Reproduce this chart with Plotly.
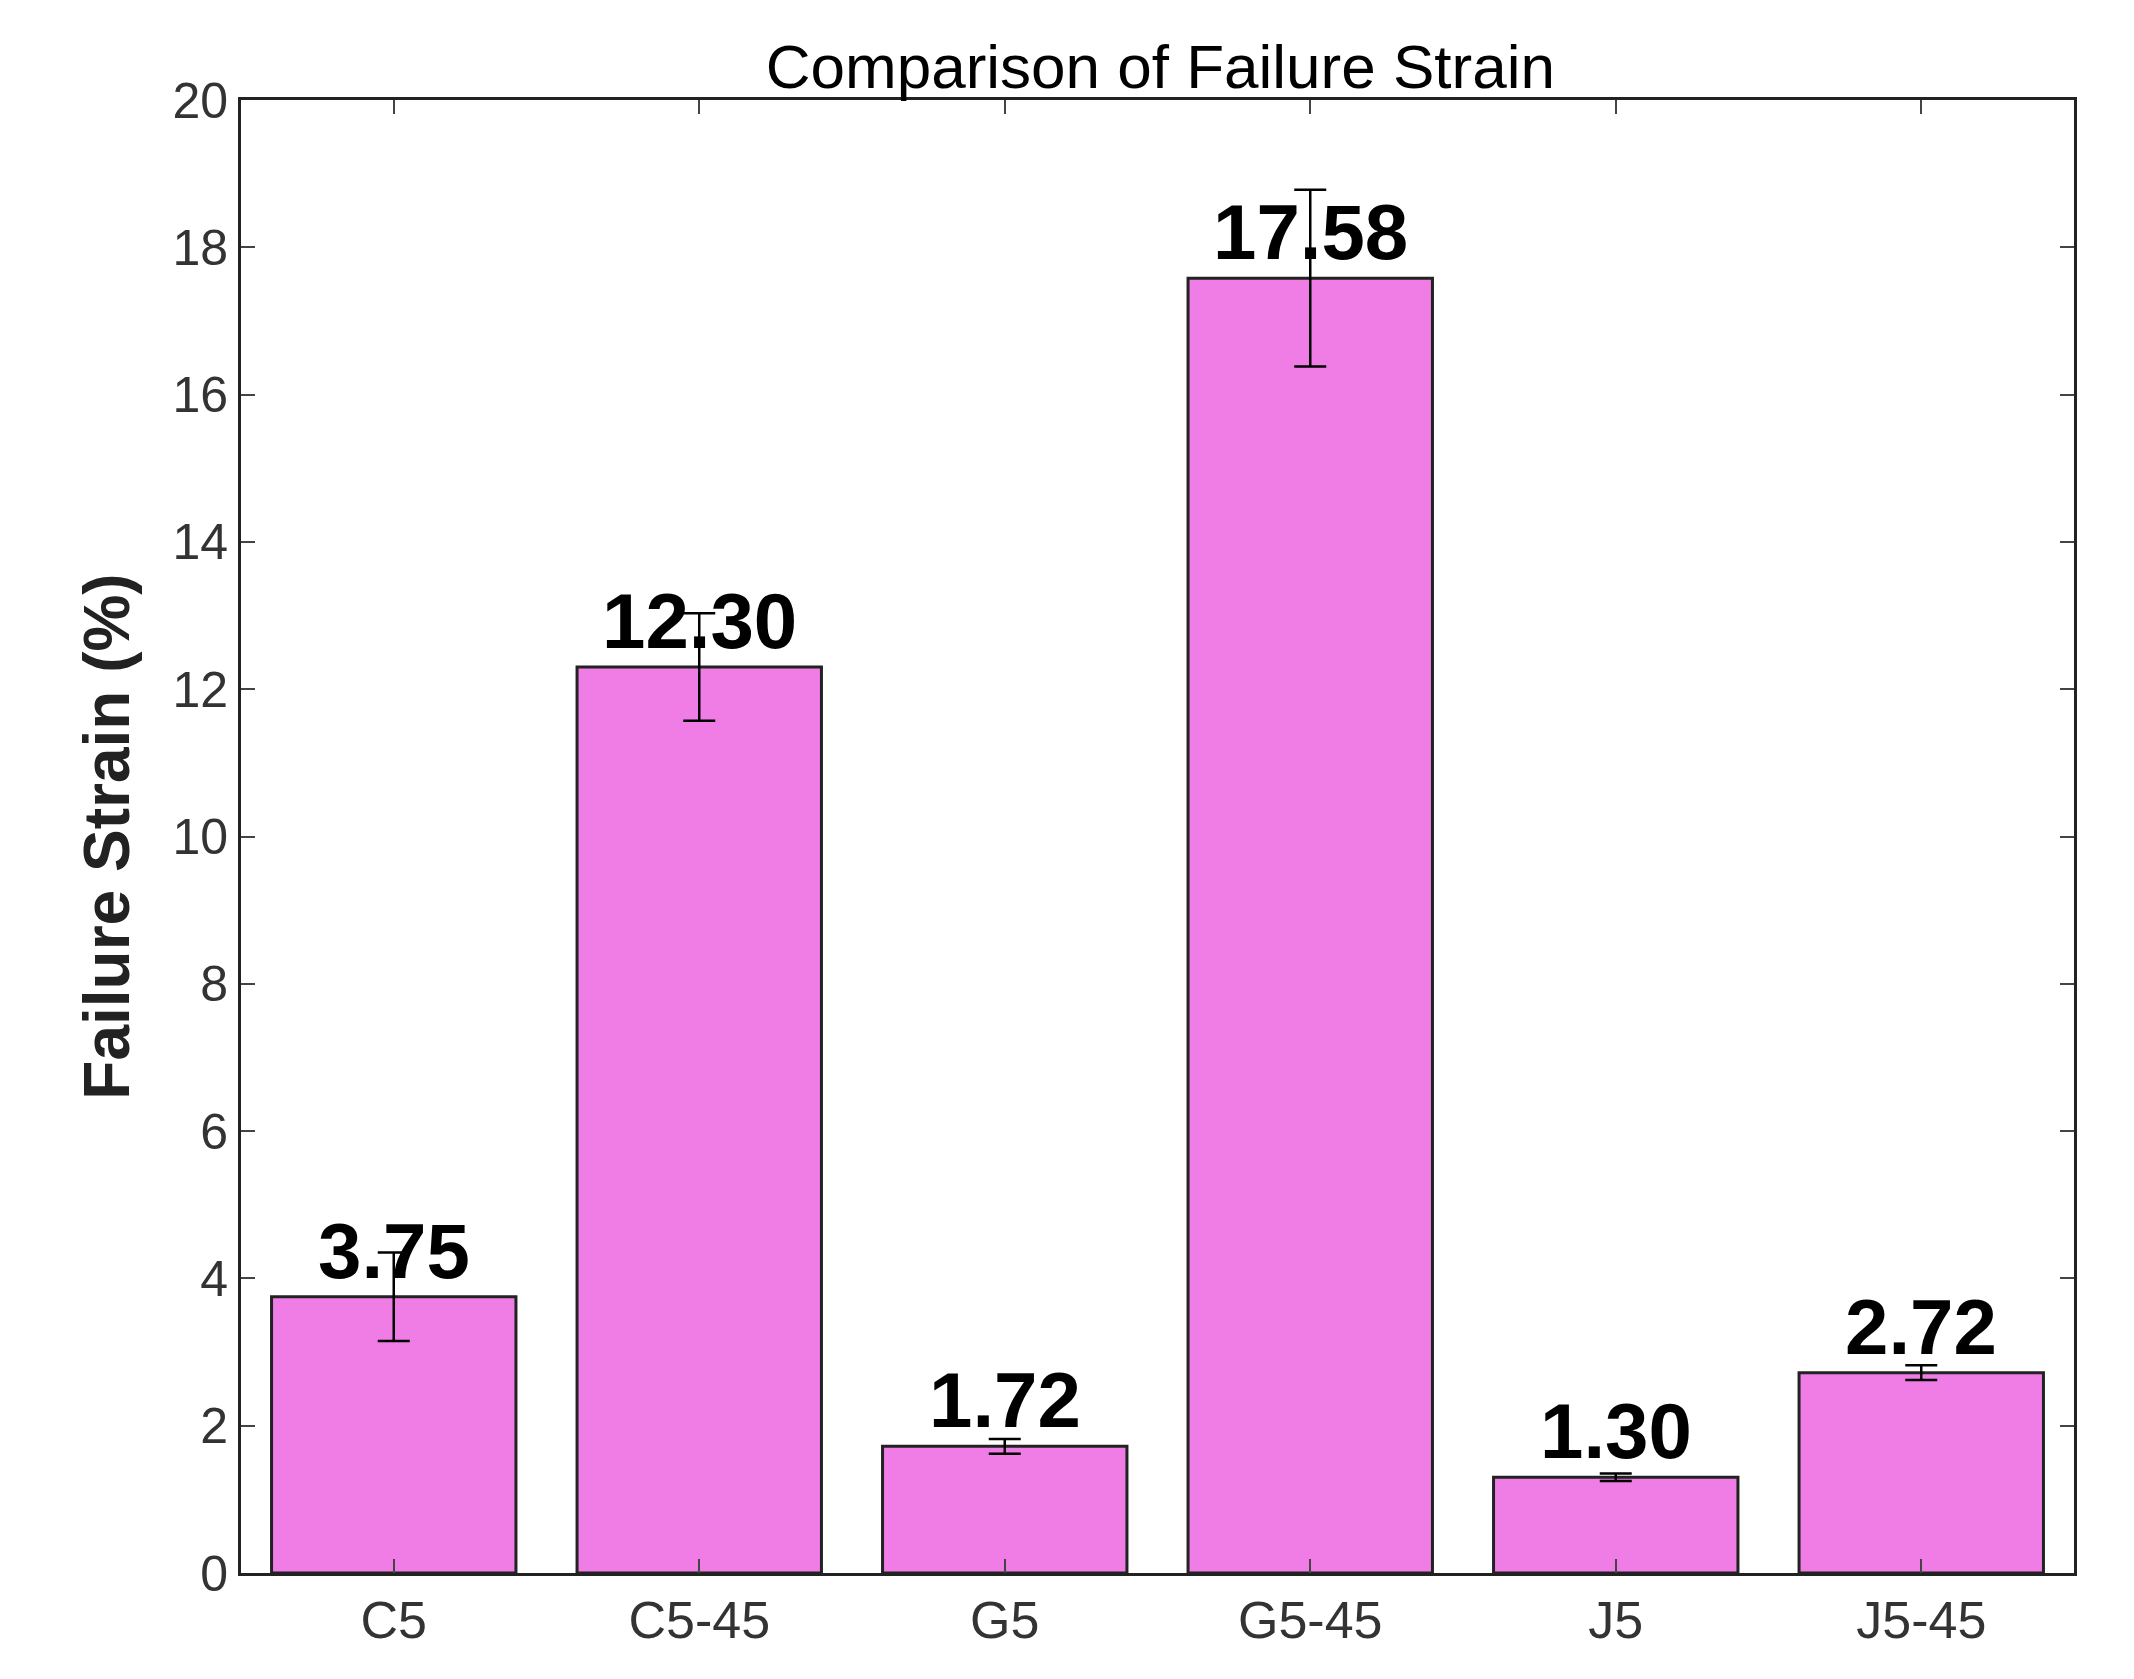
import plotly.graph_objects as go

categories = ["C5", "C5-45", "G5", "G5-45", "J5", "J5-45"]
values = [3.75, 12.30, 1.72, 17.58, 1.30, 2.72]
errors = [0.6, 0.73, 0.1, 1.2, 0.05, 0.1]
ticks = [0, 2, 4, 6, 8, 10, 12, 14, 16, 18, 20]

fig = go.Figure(go.Bar(
    x=categories, y=values, width=0.8,
    marker=dict(color="#F07DE6", line=dict(color="#222222", width=3)),
    error_y=dict(type="data", array=errors, color="black", thickness=2.5, width=16),
))
for c, v in zip(categories, values):
    fig.add_annotation(x=c, y=v, text=f"<b>{v:.2f}</b>", showarrow=False,
                       yanchor="bottom", yshift=0,
                       font=dict(size=78, color="black", family="Liberation Sans"))
fig.update_layout(
    width=2134, height=1679, plot_bgcolor="white", paper_bgcolor="white",
    margin=dict(l=233, r=68, t=92, b=114),
    font=dict(family="Liberation Sans", color="#222222"),
    title=dict(text="Comparison of Failure Strain", x=0.54, xanchor="center", y=0.978,
               font=dict(size=62, color="black")),
    showlegend=False, bargap=0.2,
)
fig.update_xaxes(showline=True, linecolor="#222222", linewidth=3, mirror="allticks",
                 ticks="inside", ticklen=14, tickwidth=2, tickcolor="#444",
                 tickfont=dict(size=52, color="#333"))
fig.update_yaxes(range=[0, 20], tickvals=ticks, showgrid=False, zeroline=False,
                 showline=True, linecolor="#222222", linewidth=3, mirror="allticks",
                 ticks="inside", ticklen=14, tickwidth=2, tickcolor="#444",
                 tickfont=dict(size=50, color="#333"),
                 title=dict(text="<b>Failure Strain (%)</b>", font=dict(size=64, color="#222"), standoff=22))
fig.write_html("out.html")
